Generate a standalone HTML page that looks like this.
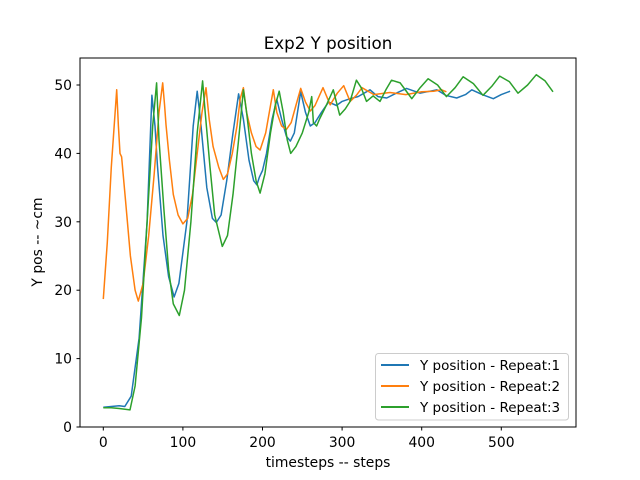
<!DOCTYPE html>
<html><head><meta charset="utf-8"><style>
body{margin:0;background:#fff}
svg{display:block;font-family:"DejaVu Sans","Liberation Sans",sans-serif}
</style></head><body>
<svg id="chart" width="640" height="480">
<rect width="640" height="480" fill="#fff"/>
<text x="328" y="49" text-anchor="middle" font-size="16.7">Exp2 Y position</text>
<g id="plot"></g>
<rect x="80" y="58" width="496" height="369" fill="none" stroke="#000" stroke-width="1"/>
<g id="ticks"></g>
<text x="328" y="467" text-anchor="middle" font-size="13.9">timesteps -- steps</text>
<text transform="translate(42,242) rotate(-90)" text-anchor="middle" font-size="13.9">Y pos -- ~cm</text>
<g>
<rect x="375.5" y="353.5" width="193" height="66.5" rx="3" fill="#fff" fill-opacity="0.8" stroke="#ccc"/>
<g><line x1="381" y1="365" x2="409" y2="365" stroke="#1f77b4" stroke-width="2"/><text x="420" y="370" font-size="13.5">Y position - Repeat:1</text></g>
<g><line x1="381" y1="386" x2="409" y2="386" stroke="#ff7f0e" stroke-width="2"/><text x="420" y="391" font-size="13.5">Y position - Repeat:2</text></g>
<g><line x1="381" y1="407" x2="409" y2="407" stroke="#2ca02c" stroke-width="2"/><text x="420" y="412" font-size="13.5">Y position - Repeat:3</text></g>
</g>
</svg>
<script>
const xTicks=[0,100,200,300,400,500];
const yTicks=[0,10,20,30,40,50];
const s1x=[0,10,20,27,35,45,55,61,65,68,75,82,89,95,105,113,118,122,130,137,142,148,155,163,170,176,183,189,193,196,200,205,212,218,224,230,235,240,248,254,260,266,274,283,293,300,310,320,335,345,356,368,381,398,419,430,444,455,463,476,490,500,511];
const s1y=[2.9,3.0,3.1,3.0,4.5,13,30,48.5,44,38.3,28,22,19,21,30,44,49.1,45,35,30.5,29.9,31,36,43,48.7,45,39,36,35.4,36.5,37.5,40,45,47.9,45,42.5,41.8,43,49,46,44,44.5,46,47.5,47,47.6,48,48.3,49.3,48.3,48.1,48.8,49.5,48.8,49.3,48.5,48.1,48.6,49.3,48.6,48,48.6,49.1];
const s2x=[0,5,10,16.8,19,21,23,28,34,40,44,50,57,64,70,74.6,77,78.8,83,88,94,100,106,112,118,124,129,133,138,145,150.8,156,162,168,172,176,180,186,192,197,204,210,213.6,218,224,230,236,242,248,254,260,266,276,285,294,302,310,318,325,340,360,380,400,415,425,431];
const s2y=[18.7,27,38,49.3,44,40,39.5,33,25,20,18.4,21,28,37,46,50.3,47,44.2,39,34,31,29.7,30.5,34,40,46,49.6,45,41,38,36.2,37,40,44,48,49.6,46,43,41,40.5,43,47,49.3,46,44,43.5,44.5,47,49.5,47.5,46.2,47,49.6,47.1,48.8,49.9,47.6,48.5,49.6,48.6,48.9,48.6,49,49.1,49.3,49];
const s3x=[0,10,20,33.5,40,48,55,62,67,70,76,82,88,95.5,102,110,118,124.8,128,134,140,149.5,156,163,170,176,180,186,192,197,203,210,216,221,226,231,235.4,242,250,258,261.8,264,268,272,280,289,297,304,310,318,324,330.6,339,347.6,355,362,373,380,387.5,398,408,420,431,442,452,465,477,488,498,510,521,533,544,555,565];
const s3y=[2.8,2.8,2.7,2.5,6,16,30,44,50.3,42,32,23,18,16.3,20,30,43,50.6,46,38,31,26.4,28,34,42,49.3,46,40,36,34.2,37,43,47,49.1,46,42,40,41,43,46,48.3,44.5,44,45.1,47,49.3,45.6,46.5,47.6,50.7,49.6,47.6,48.4,47.6,49.3,50.7,50.3,49.2,48,49.6,50.9,50,48.3,49.6,51.2,50.2,48.5,49.8,51.3,50.5,48.8,50,51.5,50.6,49];
const X0=103.3,XS=0.796,Y0=427,YS=6.84;
function xs(v){return X0+v*XS;}
function ys(v){return Y0-v*YS;}
const NS='http://www.w3.org/2000/svg';
const plot=document.getElementById('plot');
const ticks=document.getElementById('ticks');
function mk(t,a){const e=document.createElementNS(NS,t);for(const k in a)e.setAttribute(k,a[k]);return e;}
xTicks.forEach(v=>{
const l=mk('line',{x1:xs(v),x2:xs(v),y1:427,y2:430.5,stroke:'#000'});


ticks.appendChild(l);
const t=mk('text',{x:xs(v),y:447,'text-anchor':'middle','font-size':'13.9'});


t.textContent=v;ticks.appendChild(t);
});
yTicks.forEach(v=>{
const l=mk('line',{x1:76.5,x2:80,y1:ys(v),y2:ys(v),stroke:'#000'});


ticks.appendChild(l);
const t=mk('text',{x:72,y:ys(v)+5,'text-anchor':'end','font-size':'13.9'});


t.textContent=v;ticks.appendChild(t);
});
[[s1x,s1y,'#1f77b4','repeat-1'],[s2x,s2y,'#ff7f0e','repeat-2'],[s3x,s3y,'#2ca02c','repeat-3']].forEach(s=>{
const d=s[0].map((x,i)=>(i?'L':'M')+xs(x).toFixed(1)+' '+ys(s[1][i]).toFixed(1)).join(' ');
const p=mk('path',{d:d,fill:'none',stroke:s[2],'stroke-width':1.5,'stroke-linejoin':'round'});


plot.appendChild(p);
});
</script>
</body></html>
